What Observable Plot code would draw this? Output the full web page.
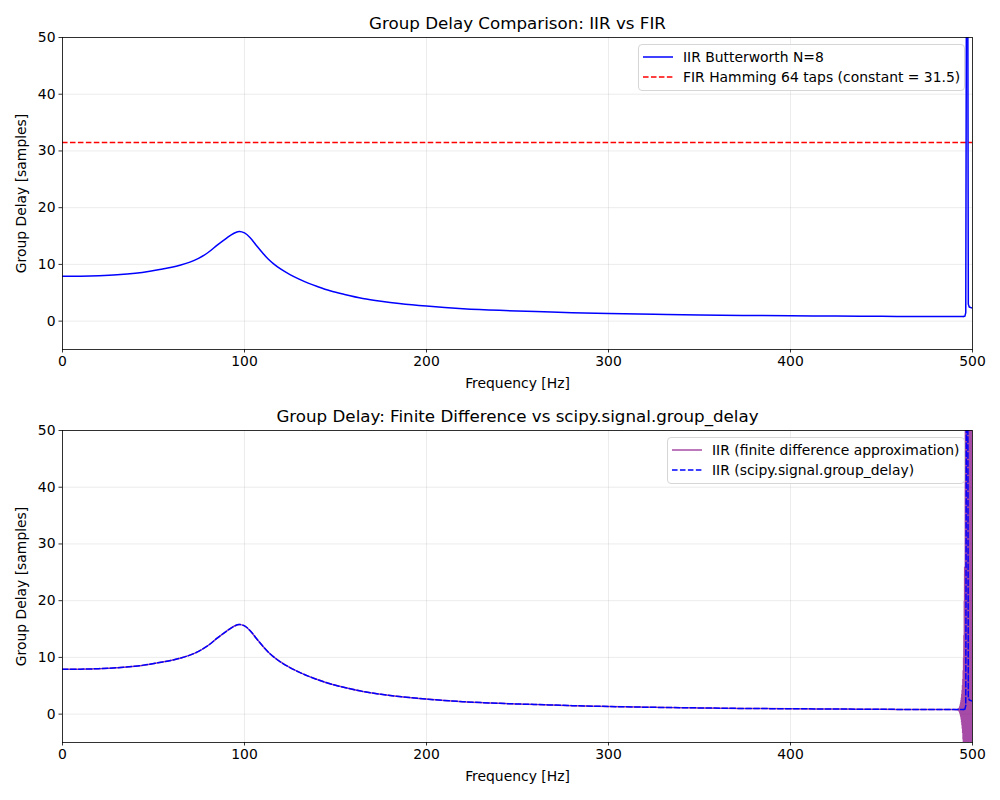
<!DOCTYPE html>
<html>
<head>
<meta charset="utf-8">
<script src="https://cdn.jsdelivr.net/npm/d3@7"></script>
<script src="https://cdn.jsdelivr.net/npm/@observablehq/plot@0.6"></script>
<style>
  body { margin: 0; background: #fff; }
  #wrap { position: relative; width: 1000px; height: 800px; font-family: "DejaVu Sans", sans-serif; }
  #wrap svg { display: block; }
  .legend { position: absolute; background: rgba(255,255,255,0.8); border: 1px solid #d6d6d6; border-radius: 4px; box-sizing: border-box; font-size: 13.9px; color: #000; }
  .legend .row { position: absolute; left: 4px; height: 20px; display: flex; align-items: center; white-space: nowrap; }
  .legend .row svg { width: 30px; height: 10px; margin-right: 10px; }
</style>
</head>
<body>
<div id="wrap"></div>
<script>
// ---- Data ----
// smooth part of the IIR group delay
const freqHz = [0, 10, 20, 30, 40, 48, 55, 60, 65, 70, 75, 80, 85, 90, 94, 97, 100, 103, 107, 110, 113, 116, 120, 125, 130, 135, 140, 147, 155, 165, 175, 185, 200, 220, 240, 260, 280, 300, 325, 350, 375, 400, 425, 450, 475, 490, 495];
const iirDelay = [7.9, 7.93, 8.02, 8.18, 8.45, 8.8, 9.2, 9.5, 9.9, 10.4, 11.1, 12.1, 13.4, 14.6, 15.45, 15.8, 15.55, 14.75, 13.15, 12.0, 10.95, 10.1, 9.15, 8.2, 7.4, 6.7, 6.1, 5.35, 4.7, 4.0, 3.5, 3.1, 2.65, 2.2, 1.9, 1.7, 1.5, 1.35, 1.2, 1.1, 1.0, 0.95, 0.9, 0.85, 0.82, 0.8, 0.8];
// spike near Nyquist
const spikeFreqHz = [495, 495.8, 496.3, 496.8, 497.3, 497.7, 498.2, 499, 500];
const spikeDelay = [0.8, 0.85, 1.5, 80, 80, 3.0, 2.5, 2.4, 2.3];
const firConstant = [31.5];

// finite difference: matches IIR below 492 Hz, then oscillates
const fdTailFreq = [492.0, 492.1, 492.2, 492.3, 492.4, 492.5, 492.6, 492.7, 492.8, 492.9,
  493.0, 493.1, 493.2, 493.3, 493.4, 493.5, 493.6, 493.7, 493.8, 493.9,
  494.0, 494.1, 494.2, 494.3, 494.4, 494.5, 494.6, 494.7, 494.8, 494.9,
  495.0, 495.1, 495.2, 495.3, 495.4, 495.5, 495.6, 495.7, 495.8, 495.9,
  496.0, 496.1, 496.2, 496.3, 496.4, 496.5, 496.6, 496.7, 496.8, 496.9,
  497.0, 497.1, 497.2, 497.3, 497.4, 497.5, 497.6, 497.7, 497.8, 497.9,
  498.0, 498.1, 498.2, 498.3, 498.4, 498.5, 498.6, 498.7, 498.8, 498.9,
  499.0, 499.1, 499.2, 499.3, 499.4, 499.5, 499.6, 499.7, 499.8, 499.9, 500.0];
const fdTailDelay = [0.8, 0.9, 0.7, 0.95, 0.6, 1.0, 0.5, 1.1, 0.4, 1.3,
  0.2, 1.5, 0.0, 1.8, -0.3, 2.1, -0.6, 2.5, -1.0, 3.0,
  -1.5, 3.6, -2.0, 4.3, -2.6, 5.2, -3.4, 6.3, -4.5, 7.8,
  -6, 10, -8, 14, -10, 20, -10, 26, -10, 24,
  -10, 60, -10, 25, -10, 27, -10, 60, -10, 25,
  -10, 60, -10, 26, -10, 24, -10, 60, -10, 25,
  -10, 27, -10, 24, -10, 60, -10, 25, -10, 26,
  -10, 24, -10, 60, -10, 25, -10, 26, -10, 24, 8];

const xTicks = [0, 100, 200, 300, 400, 500];
const yTicks = [0, 10, 20, 30, 40, 50];

const titles = ["Group Delay Comparison: IIR vs FIR", "Group Delay: Finite Difference vs scipy.signal.group_delay"];
const xLabel = "Frequency [Hz]";
const yLabel = "Group Delay [samples]";

// ---- Build tables ----
const iirSmooth = freqHz.map((f, i) => ({f, d: iirDelay[i]}));
const iirSpike = spikeFreqHz.map((f, i) => ({f, d: spikeDelay[i]}));
const fd = iirSmooth.filter(p => p.f < 492).concat(fdTailFreq.map((f, i) => ({f, d: fdTailDelay[i]})));

function makePanel(title, marginTop, marginBottom, marks) {
  return Plot.plot({
    width: 1000,
    height: 400,
    marginLeft: 62,
    marginRight: 28,
    marginTop,
    marginBottom,
    style: {fontFamily: "DejaVu Sans, sans-serif", fontSize: "13.9px", color: "#000", background: "#fff", overflow: "visible"},
    x: {domain: [0, 500]},
    y: {domain: [-5, 50]},
    marks: [
      Plot.gridX(xTicks, {stroke: "#b0b0b0", strokeOpacity: 0.3, strokeWidth: 0.8}),
      Plot.gridY(yTicks, {stroke: "#b0b0b0", strokeOpacity: 0.3, strokeWidth: 0.8}),
      ...marks,
      Plot.frame({stroke: "#000", strokeWidth: 0.8}),
      Plot.axisX(xTicks, {tickSize: 3.5, tickPadding: 3.5, strokeWidth: 0.8, label: null, fontSize: 13.9}),
      Plot.axisY(yTicks, {tickSize: 3.5, tickPadding: 3.5, strokeWidth: 0.8, label: null, fontSize: 13.9}),
      Plot.text([xLabel], {frameAnchor: "bottom", dy: 34, lineAnchor: "middle", textAnchor: "middle", fontSize: 13.9}),
      Plot.text([yLabel], {frameAnchor: "left", dx: -41, rotate: -90, lineAnchor: "middle", textAnchor: "middle", fontSize: 13.9}),
      Plot.text([title], {frameAnchor: "top", dy: -14, lineAnchor: "middle", textAnchor: "middle", fontSize: 16.7})
    ]
  });
}

const topPanel = makePanel(titles[0], 37, 51, [
  Plot.ruleY(firConstant, {stroke: "#ff0000", strokeWidth: 1.5, strokeDasharray: "5.55,2.4"}),
  Plot.line(iirSmooth, {x: "f", y: "d", stroke: "#0000ff", strokeWidth: 1.5, curve: "catmull-rom", clip: true}),
  Plot.line(iirSpike, {x: "f", y: "d", stroke: "#0000ff", strokeWidth: 1.5, curve: "linear", clip: true})
]);

const bottomPanel = makePanel(titles[1], 30, 58, [
  Plot.line(fd, {x: "f", y: "d", stroke: "#800080", strokeOpacity: 0.7, strokeWidth: 1.5, curve: "catmull-rom", clip: true}),
  Plot.line(iirSmooth, {x: "f", y: "d", stroke: "#0000ff", strokeWidth: 1.5, strokeDasharray: "5.55,2.4", curve: "catmull-rom", clip: true}),
  Plot.line(iirSpike, {x: "f", y: "d", stroke: "#0000ff", strokeWidth: 1.5, strokeDasharray: "5.55,2.4", curve: "linear", clip: true})
]);

const wrap = document.getElementById("wrap");
wrap.appendChild(topPanel);
wrap.appendChild(bottomPanel);

function addLegend(left, topPx, width, entries) {
  const box = document.createElement("div");
  box.className = "legend";
  box.style.left = left + "px";
  box.style.top = topPx + "px";
  box.style.width = width + "px";
  box.style.height = "47px";
  entries.forEach((e, i) => {
    const row = document.createElement("div");
    row.className = "row";
    row.style.top = (2 + i * 20) + "px";
    row.innerHTML = `<svg viewBox="0 0 30 10"><line x1="0" y1="5" x2="30" y2="5" stroke="${e.color}" stroke-opacity="${e.opacity || 1}" stroke-width="1.5" ${e.dash ? 'stroke-dasharray="5.55,2.4"' : ''}/></svg><span>${e.label}</span>`;
    box.appendChild(row);
  });
  wrap.appendChild(box);
}

addLegend(638, 44, 327, [
  {label: "IIR Butterworth N=8", color: "#0000ff"},
  {label: "FIR Hamming 64 taps (constant = 31.5)", color: "#ff0000", dash: true}
]);
addLegend(667, 437, 298, [
  {label: "IIR (finite difference approximation)", color: "#800080", opacity: 0.7},
  {label: "IIR (scipy.signal.group_delay)", color: "#0000ff", dash: true}
]);
</script>
</body>
</html>
